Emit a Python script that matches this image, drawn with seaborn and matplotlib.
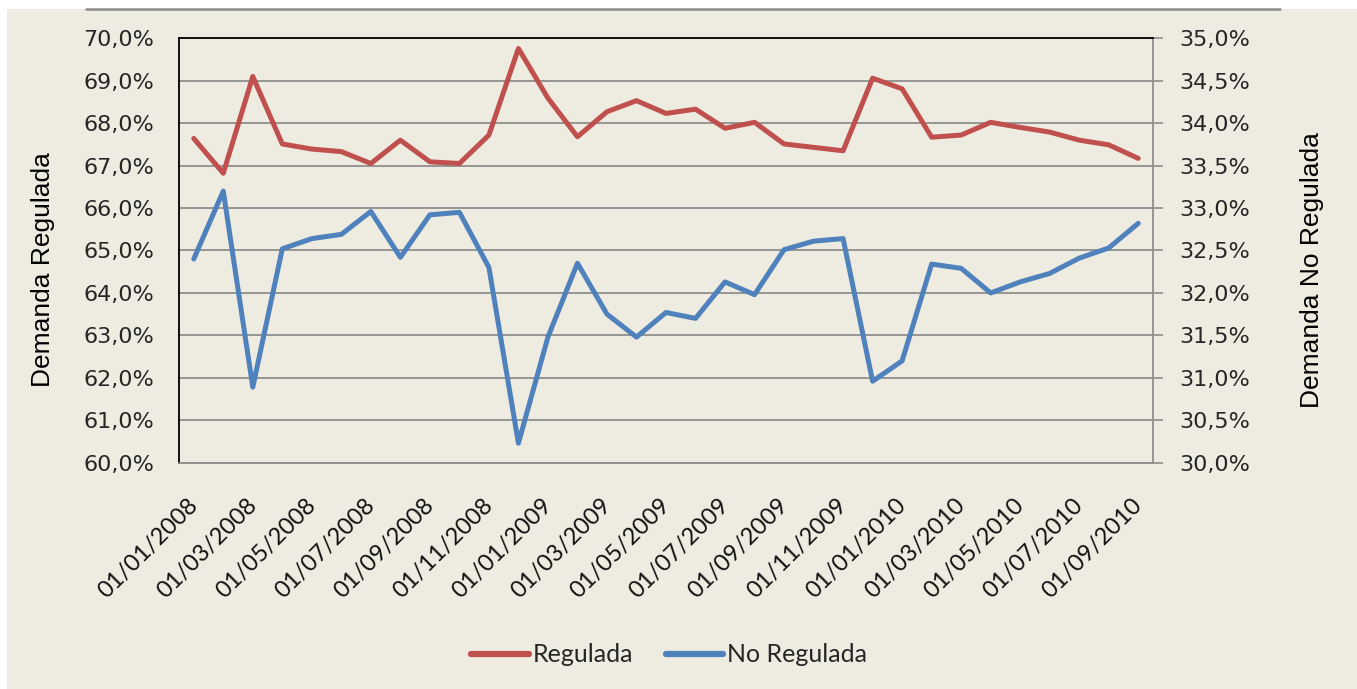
import numpy as np
import pandas as pd
import matplotlib
matplotlib.use('Agg')
import matplotlib.pyplot as plt
import matplotlib.transforms as mtransforms
from matplotlib.ticker import FuncFormatter, MultipleLocator
from matplotlib.lines import Line2D
import seaborn as sns

# monthly categories, Jan 2008 .. Sep 2010
months = pd.date_range('2008-01-01', '2010-09-01', freq='MS')
month_labels = [d.strftime('%d/%m/%Y') for d in months]

# share of regulated demand (%), left axis
regulada = [67.64, 66.82, 69.10, 67.51, 67.39, 67.33, 67.05, 67.60, 67.09, 67.05,
            67.72, 69.76, 68.59, 67.68, 68.27, 68.53, 68.23, 68.33, 67.88, 68.02,
            67.51, 67.43, 67.35, 69.06, 68.81, 67.67, 67.72, 68.02, 67.90, 67.79,
            67.60, 67.49, 67.17]

# share of non-regulated demand (%), right axis
no_regulada = [32.40, 33.20, 30.89, 32.52, 32.64, 32.69, 32.96, 32.42, 32.92, 32.95,
               32.30, 30.23, 31.48, 32.35, 31.75, 31.48, 31.77, 31.70, 32.13, 31.98,
               32.51, 32.61, 32.64, 30.96, 31.20, 32.34, 32.29, 32.00, 32.13, 32.23,
               32.41, 32.53, 32.82]

df = pd.DataFrame({'idx': np.arange(len(months)), 'fecha': month_labels,
                   'Regulada': regulada, 'No Regulada': no_regulada})

red = '#C0504D'
blue = '#4F81BD'
beige = '#EEEBE1'
grid_col = '#8E8E8E'

sns.set_theme(style='white')
plt.rcParams['font.family'] = ['DejaVu Sans']

W, H = 1357, 689
fig = plt.figure(figsize=(W / 100, H / 100), dpi=100)
fig.patch.set_facecolor('white')
# beige panel and thin gray rule at the top
fig.patches.append(plt.Rectangle((7 / W, 0), 1 - 7 / W, 1 - 9 / H, transform=fig.transFigure,
                                 facecolor=beige, edgecolor='none', zorder=-10))
fig.lines.append(Line2D([86 / W, 1280 / W], [1 - 8.5 / H, 1 - 8.5 / H], transform=fig.transFigure,
                        color='#8A8A8A', lw=1.8))

ax = fig.add_axes([179 / W, 1 - 462.7 / H, (1153 - 179) / W, (462.7 - 38.3) / H])
ax.set_facecolor(beige)
ax2 = ax.twinx()

sns.lineplot(data=df, x='idx', y='Regulada', ax=ax, color=red, lw=3.6, legend=False)
sns.lineplot(data=df, x='idx', y='No Regulada', ax=ax2, color=blue, lw=3.6, legend=False)
ax.set_zorder(1)
ax2.set_zorder(2)
ax2.patch.set_visible(False)

ax.set_xlim(-0.5, len(months) - 0.5)
ax.set_ylim(60, 70)
ax2.set_ylim(30, 35)
ax.yaxis.set_major_locator(MultipleLocator(1))
ax2.yaxis.set_major_locator(MultipleLocator(0.5))
ax.yaxis.set_major_formatter(FuncFormatter(lambda v, p: f'{v:.1f}%'.replace('.', ',')))
ax2.yaxis.set_major_formatter(FuncFormatter(lambda v, p: f'{v:.1f}%'.replace('.', ',')))
ax.grid(axis='y', color=grid_col, lw=1.3)
ax.grid(axis='x', visible=False)

tick_pos = df['idx'][::2]
ax.set_xticks(tick_pos)
ax.set_xticklabels(df['fecha'][::2], rotation=45, ha='right', va='top',
                   rotation_mode='anchor', fontsize=17, family='Lato', color='#111111')
ax.tick_params(axis='x', length=0, pad=23)
shift = mtransforms.ScaledTranslation(-7 / 100, 0, fig.dpi_scale_trans)
for lbl in ax.get_xticklabels():
    lbl.set_transform(lbl.get_transform() + shift)

ax.tick_params(axis='y', length=0, pad=18, labelsize=16, labelcolor='#262626')
ax2.tick_params(axis='y', length=7, width=1.2, color=grid_col, direction='out', pad=12,
                labelsize=16, labelcolor='#262626')

ax.set_xlabel('')
ax.set_ylabel('Demanda Regulada', fontsize=19, family='Liberation Sans', color='black', labelpad=20)
ax2.set_ylabel('Demanda No Regulada', fontsize=19, family='Liberation Sans', color='black', labelpad=36)
# axis titles sit a little below the middle of the plot
ax.yaxis.label.set_y(0.454)
ax2.yaxis.label.set_y(0.454)

for sp in ax.spines.values():
    sp.set_visible(False)
ax2.spines['left'].set_color('black')
ax2.spines['left'].set_linewidth(1.3)
ax2.spines['top'].set_color('black')
ax2.spines['top'].set_linewidth(1.3)
ax2.spines['right'].set_color(grid_col)
ax2.spines['right'].set_linewidth(1.3)
ax2.spines['bottom'].set_color(grid_col)
ax2.spines['bottom'].set_linewidth(1.3)

handles = [Line2D([], [], color=red, lw=4.5, solid_capstyle='round'),
           Line2D([], [], color=blue, lw=4.5, solid_capstyle='round')]
fig.legend(handles, ['Regulada', 'No Regulada'], loc='center', bbox_to_anchor=(669 / W, 1 - 655 / H),
           ncol=2, frameon=False, prop={'family': 'Lato', 'size': 18}, handlelength=2.3,
           handletextpad=0.15, columnspacing=1.3)

fig.savefig('out.png', dpi=100, facecolor=fig.get_facecolor())
